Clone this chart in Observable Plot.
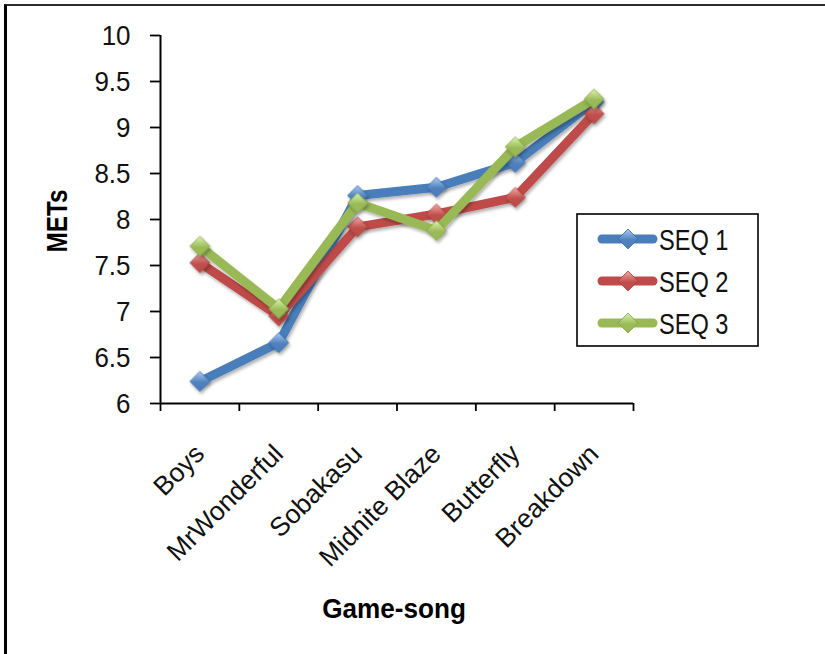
<!DOCTYPE html>
<html><head><meta charset="utf-8">
<script src="https://cdn.jsdelivr.net/npm/d3@7"></script>
<script src="https://cdn.jsdelivr.net/npm/@observablehq/plot@0.6"></script>
<style>
html,body{margin:0;padding:0;background:#fff;}
#wrap{position:relative;width:825px;height:654px;overflow:hidden;}
#wrap svg{position:absolute;left:0;top:0;}
#frame{position:absolute;left:4px;top:4px;right:-10px;bottom:-10px;border-left:3px solid #000;border-top:2px solid #2b2b2b;pointer-events:none;}
</style></head><body><div id="wrap"><div id="frame"></div></div>
<script>
// Game songs on the category axis
const songs = ["Boys", "MrWonderful", "Sobakasu", "Midnite Blaze", "Butterfly", "Breakdown"];
// METs per song for each sequence
const seq1 = [6.24, 6.66, 8.26, 8.35, 8.62, 9.28];
const seq2 = [7.53, 6.95, 7.92, 8.06, 8.24, 9.15];
const seq3 = [7.71, 7.03, 8.18, 7.88, 8.79, 9.31];
const seriesNames = ["SEQ 1", "SEQ 2", "SEQ 3"];
const yTicks = [6, 6.5, 7, 7.5, 8, 8.5, 9, 9.5, 10];

const FONT = '"Liberation Sans", Arial, sans-serif';

const styles = [
  {line: "#4A7EBB", grad: "gBlue", top: "#A9CBF5", bot: "#4F81BD", edge: "#3C6AA6"},
  {line: "#BE4B48", grad: "gRed", top: "#F7A9A6", bot: "#C0504D", edge: "#A33F3C"},
  {line: "#98B954", grad: "gGreen", top: "#DDF5AE", bot: "#9BBB59", edge: "#82A247"}
];

const allSeries = [seq1, seq2, seq3].map((vals, k) =>
  songs.map((s, i) => ({song: s, pos: i + 0.5, value: vals[i], series: seriesNames[k]}))
);

const marks = [];
allSeries.forEach((rows, k) => {
  const st = styles[k];
  marks.push(Plot.line(rows, {x: "pos", y: "value", stroke: st.line, strokeWidth: 9,
    strokeLinejoin: "round", strokeLinecap: "round"}));
  marks.push(Plot.dot(rows, {x: "pos", y: "value", symbol: "diamond2", r: 9,
    fill: `url(#${st.grad})`, stroke: st.edge, strokeWidth: 0.8}));
});

const chart = Plot.plot({
  width: 825,
  height: 654,
  marginLeft: 160,
  marginRight: 192,
  marginTop: 35,
  marginBottom: 251,
  style: {background: "transparent", overflow: "visible"},
  x: {type: "linear", domain: [0, songs.length]},
  y: {domain: [6, 10]},
  marks: [
    // y axis with outward ticks
    Plot.axisY({ticks: yTicks, tickSize: 10, tickPadding: 20, tickFormat: d => String(d),
      fontSize: 28.5, fontFamily: FONT, fill: "#111", stroke: "#000", strokeWidth: 1.8, label: null}),
    // category boundaries on the x axis
    Plot.axisX({ticks: d3.range(0, songs.length + 1), tickSize: 8, tickFormat: () => "",
      stroke: "#000", strokeWidth: 1.8, label: null}),
    // category names, centred in each slot
    Plot.axisX({ticks: songs.map((s, i) => i + 0.5), tickSize: 0, tickRotate: -45,
      tickPadding: 46, dx: 0, tickFormat: t => songs[Math.floor(t)],
      fontSize: 26.5, fontFamily: FONT, fill: "#111", label: null}),
    Plot.ruleX([0], {stroke: "#000", strokeWidth: 2}),
    Plot.ruleY([6], {stroke: "#000", strokeWidth: 2}),
    ...marks
  ]
});

document.getElementById("wrap").prepend(chart);

const svg = d3.select(chart);

// condense the numeric tick labels horizontally
svg.selectAll('g[aria-label="y-axis tick label"] text').each(function () {
  const t = this.getAttribute("transform") || "";
  this.setAttribute("transform", t + " scale(0.91,1)");
});

const defs = svg.insert("defs", ":first-child");
styles.forEach(st => {
  const g = defs.append("linearGradient").attr("id", st.grad)
    .attr("x1", 0).attr("y1", 0).attr("x2", 0).attr("y2", 1);
  g.append("stop").attr("offset", "0%").attr("stop-color", st.top);
  g.append("stop").attr("offset", "55%").attr("stop-color", st.bot);
  g.append("stop").attr("offset", "100%").attr("stop-color", st.line);
});
const f = defs.append("filter").attr("id", "shadow")
  .attr("x", "-20%").attr("y", "-20%").attr("width", "140%").attr("height", "140%");
f.append("feDropShadow").attr("dx", 1.5).attr("dy", 2.5).attr("stdDeviation", 1.8)
  .attr("flood-color", "#000").attr("flood-opacity", 0.3);
svg.selectAll('g[aria-label="line"], g[aria-label="dot"]').attr("filter", "url(#shadow)");

// axis titles
svg.append("text").attr("transform", "translate(394,618) scale(0.95,1)").attr("text-anchor", "middle")
  .attr("font-family", FONT).attr("font-weight", "bold").attr("font-size", 27.5)
  .attr("fill", "#000").text("Game-song");
svg.append("text").attr("transform", "translate(67,221) rotate(-90) scale(0.84,1)").attr("text-anchor", "middle")
  .attr("font-family", FONT).attr("font-weight", "bold").attr("font-size", 29)
  .attr("fill", "#000").text("METs");

// legend
const lg = svg.append("g");
lg.append("rect").attr("x", 577).attr("y", 214).attr("width", 181).attr("height", 132)
  .attr("fill", "#fff").attr("stroke", "#000").attr("stroke-width", 1.6);
seriesNames.forEach((name, k) => {
  const st = styles[k];
  const cy = 239 + k * 42;
  lg.append("line").attr("x1", 602).attr("x2", 653).attr("y1", cy).attr("y2", cy)
    .attr("stroke", st.line).attr("stroke-width", 9).attr("stroke-linecap", "round");
  lg.append("path").attr("d", d3.symbol(d3.symbolDiamond2, 9 * 9 * Math.PI)())
    .attr("transform", `translate(628,${cy})`).attr("fill", `url(#${st.grad})`)
    .attr("stroke", st.edge).attr("stroke-width", 0.8);
  lg.append("text").attr("transform", `translate(659,${cy}) scale(0.8,1)`).attr("dy", "0.36em")
    .attr("text-anchor", "start")
    .attr("font-family", FONT).attr("font-size", 29.5).attr("fill", "#111").text(name);
});
</script>
</body></html>
